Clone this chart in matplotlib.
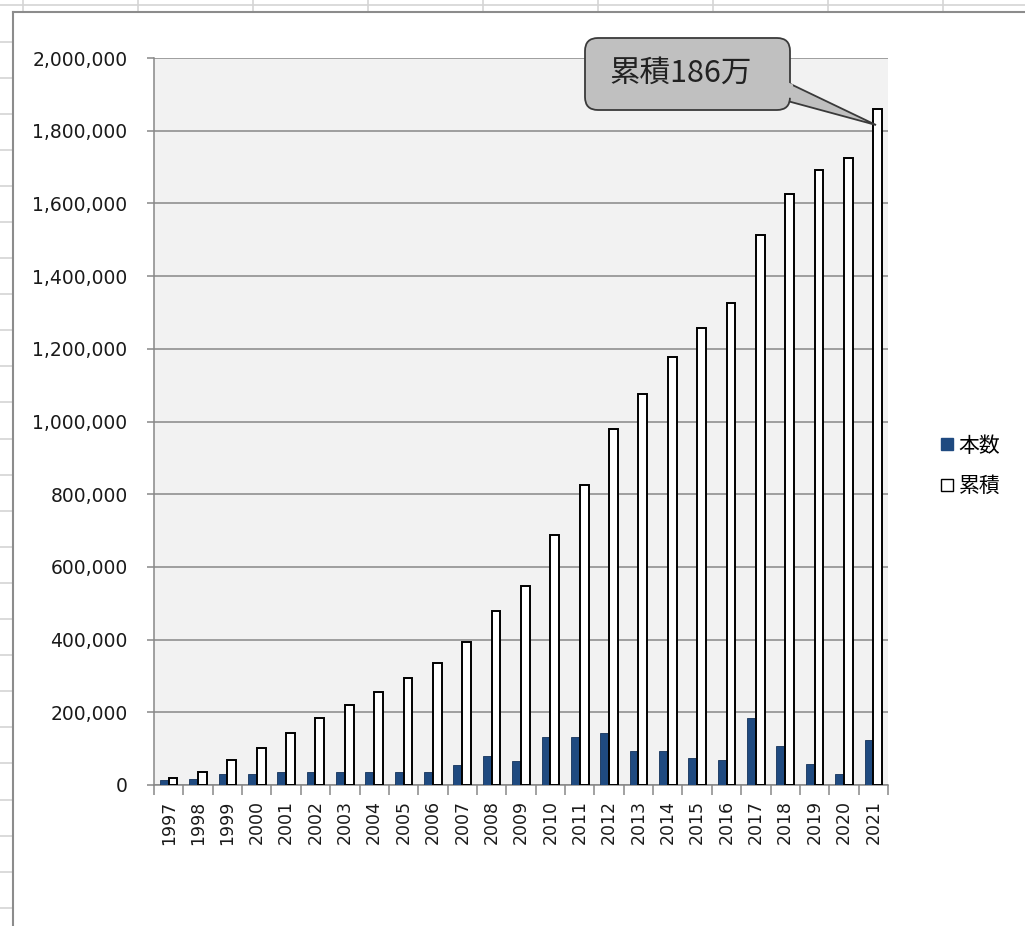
import numpy as np
import matplotlib
matplotlib.use('Agg')
import matplotlib.pyplot as plt
from matplotlib.lines import Line2D
from matplotlib.patches import FancyBboxPatch, Polygon

plt.rcParams['font.family'] = ['DejaVu Sans', 'Noto Sans CJK JP']

# data
years = ['1997', '1998', '1999', '2000', '2001', '2002', '2003', '2004', '2005',
         '2006', '2007', '2008', '2009', '2010', '2011', '2012', '2013', '2014',
         '2015', '2016', '2017', '2018', '2019', '2020', '2021']
honsu = [15000, 17000, 30000, 30000, 35000, 35000, 35000, 35000, 35000,
         35000, 55000, 80000, 65000, 133000, 133000, 143000, 94000, 94000,
         74000, 69000, 183000, 108000, 59000, 29000, 124000]
ruiseki = [18000, 37000, 68000, 103000, 142000, 183000, 221000, 256000, 295000,
           335000, 393000, 479000, 548000, 687000, 825000, 978000, 1077000, 1177000,
           1256000, 1325000, 1513000, 1627000, 1692000, 1726000, 1859000]
series_labels = ['本数', '累積']
callout_text = '累積186万'

W, H = 1025, 926
fig = plt.figure(figsize=(W / 100, H / 100), dpi=100)
fig.patch.set_facecolor('white')

# spreadsheet remnants around the chart (pixel coords -> figure fraction)
def fx(px):
    return px / W

def fy(py):
    return 1 - py / H

sheet = '#d4d4d4'
fig.add_artist(Line2D([0, 1], [fy(5), fy(5)], color=sheet, lw=1.2))
for cx in np.arange(23, W, 115):
    fig.add_artist(Line2D([fx(cx), fx(cx)], [fy(0), fy(12)], color=sheet, lw=1.2))
for ry in np.arange(41.5, H, 36.1):
    fig.add_artist(Line2D([fx(0), fx(13)], [fy(ry), fy(ry)], color=sheet, lw=1.2))
border = '#8c8c8c'
fig.add_artist(Line2D([fx(13), fx(13)], [fy(12), 0], color=border, lw=1.5))
fig.add_artist(Line2D([fx(13), 1], [fy(12), fy(12)], color=border, lw=1.5))

ax = fig.add_axes([fx(154), fy(785), (888 - 154) / W, (785 - 58) / H])
ax.set_facecolor('#f2f2f2')

x = np.arange(len(years))
bw = 0.3
ax.bar(x - bw / 2, honsu, bw, color='#1f4a80', edgecolor='#14325a',
       linewidth=0.6, zorder=3, label=series_labels[0])
ax.bar(x + bw / 2, ruiseki, bw, color='white', edgecolor='black',
       linewidth=1.4, zorder=3, label=series_labels[1])

ax.set_xlim(-0.5, len(years) - 0.5)
ax.set_ylim(0, 2000000)
ax.set_yticks(np.arange(0, 2000001, 200000))
ax.set_yticklabels([f'{v:,}' for v in range(0, 2000001, 200000)])
ax.yaxis.grid(True, color='#878787', lw=1.1, zorder=1)
ax.set_axisbelow(True)

ax.set_xticks(x)
ax.set_xticklabels(years, rotation=90)
ax.set_xticks(np.arange(-0.5, len(years)), minor=True)
ax.tick_params(axis='x', which='major', length=0, pad=11, labelsize=12.5,
               labelcolor='#1a1a1a')
ax.tick_params(axis='x', which='minor', length=7, width=1.1, color='#878787')
ax.tick_params(axis='y', length=5, width=1.1, color='#878787', pad=14,
               labelsize=13.5, labelcolor='#1a1a1a')

for s in ('top', 'right'):
    ax.spines[s].set_visible(False)
for s in ('left', 'bottom'):
    ax.spines[s].set_color('#878787')
    ax.spines[s].set_linewidth(1.1)

# legend
handles = [Line2D([], [], ls='none', marker='s', ms=8, mfc='#1f4a80', mec='#1f4a80'),
           Line2D([], [], ls='none', marker='s', ms=8, mfc='white', mec='black', mew=1)]
fig.legend(handles, series_labels, loc='center left',
           bbox_to_anchor=(fx(921), fy(466)), frameon=False,
           prop={'family': 'Noto Sans CJK JP', 'size': 15},
           handlelength=0.7, handletextpad=0.2, labelspacing=0.9)

# callout bubble
p0 = ax.transData.transform((0, 0))
p1 = ax.transData.transform((1, 1e6))
px_x = p1[0] - p0[0]
px_y = (p1[1] - p0[1]) / 1e6
aspect = px_x / px_y

def dx(px):
    return (px - 154) / px_x - 0.5

def dy(py):
    return (785 - py) / (px_y)

gray = '#c0c0c0'
edge = '#3a3a3a'
tip = (dx(876), dy(125))
wedge = Polygon([(dx(780), dy(79)), tip, (dx(780), dy(99))], closed=True,
                fc=gray, ec=edge, lw=1.3, clip_on=False, zorder=5)
ax.add_patch(wedge)
box = FancyBboxPatch((dx(585), dy(110)), dx(790) - dx(585), dy(38) - dy(110),
                     boxstyle=f'round,pad=0,rounding_size={13 / px_x}',
                     mutation_aspect=aspect, fc=gray, ec=edge, lw=1.3,
                     clip_on=False, zorder=6)
ax.add_patch(box)
cover = Polygon([(dx(786), dy(81.5)), (dx(793), dy(84.5)), (dx(793), dy(98)),
                 (dx(786), dy(97.5))], closed=True,
                fc=gray, ec='none', clip_on=False, zorder=7)
ax.add_patch(cover)
ax.text(dx(681), dy(73), callout_text, ha='center', va='center', fontsize=22,
        family=['Noto Sans CJK JP', 'DejaVu Sans'], color='#222222',
        zorder=8, clip_on=False)

fig.savefig('out.png', dpi=100)
